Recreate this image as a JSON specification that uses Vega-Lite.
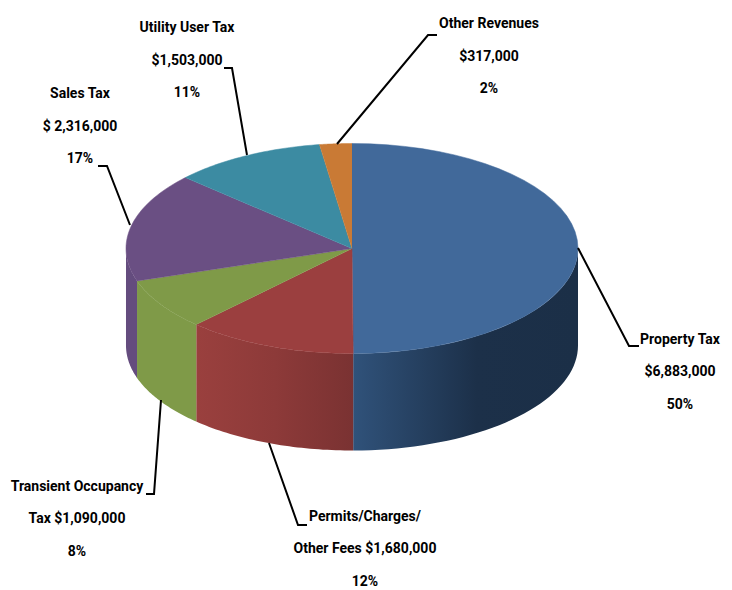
{
  "$schema": "https://vega.github.io/schema/vega-lite/v6.json",
  "width": 732,
  "height": 590,
  "padding": 0,
  "autosize": {"type": "none"},
  "background": "white",
  "view": {"stroke": null},
  "datasets": {
    "slices": [
      {"name": "Property Tax", "ord": 1, "value": 6883000},
      {"name": "Permits/Charges/Other Fees", "ord": 2, "value": 1680000},
      {"name": "Transient Occupancy Tax", "ord": 3, "value": 1090000},
      {"name": "Sales Tax", "ord": 4, "value": 2316000},
      {"name": "Utility User Tax", "ord": 5, "value": 1503000},
      {"name": "Other Revenues", "ord": 6, "value": 317000}
    ],
    "leaders": [
      {"name": "Property Tax", "seq": 1, "x": 1.0, "y": 0.0048},
      {"name": "Property Tax", "seq": 2, "x": 1.2257, "y": -0.9286},
      {"name": "Property Tax", "seq": 3, "x": 1.2699, "y": -0.9286},
      {"name": "Permits", "seq": 1, "x": -0.3673, "y": -1.8524},
      {"name": "Permits", "seq": 2, "x": -0.2389, "y": -2.6333},
      {"name": "Permits", "seq": 3, "x": -0.1991, "y": -2.6333},
      {"name": "Transient", "seq": 1, "x": -0.8451, "y": -1.4429},
      {"name": "Transient", "seq": 2, "x": -0.8761, "y": -2.3381},
      {"name": "Transient", "seq": 3, "x": -0.9115, "y": -2.3381},
      {"name": "Sales Tax", "seq": 1, "x": -0.9823, "y": 0.2238},
      {"name": "Sales Tax", "seq": 2, "x": -1.0841, "y": 0.7857},
      {"name": "Sales Tax", "seq": 3, "x": -1.1239, "y": 0.7857},
      {"name": "Utility", "seq": 1, "x": -0.4646, "y": 0.8905},
      {"name": "Utility", "seq": 2, "x": -0.531, "y": 1.719},
      {"name": "Utility", "seq": 3, "x": -0.5664, "y": 1.719},
      {"name": "Other", "seq": 1, "x": -0.0664, "y": 0.9952},
      {"name": "Other", "seq": 2, "x": 0.3363, "y": 2.0333},
      {"name": "Other", "seq": 3, "x": 0.3761, "y": 2.0333}
    ],
    "labels": [
      {"label": "Property Tax\n$6,883,000\n50%", "x": 1.4513, "y": -0.8714},
      {"label": "Permits/Charges/\nOther Fees  $1,680,000\n12%", "x": 0.0575, "y": -2.5571},
      {"label": "Transient Occupancy\nTax  $1,090,000\n8%", "x": -1.2168, "y": -2.2714},
      {"label": "Sales Tax\n$ 2,316,000\n17%", "x": -1.2035, "y": 1.4714},
      {"label": "Utility User Tax\n$1,503,000\n11%", "x": -0.7301, "y": 2.1},
      {"label": "Other Revenues\n$317,000\n2%", "x": 0.6062, "y": 2.1381}
    ]
  },
  "encoding": {
    "x": {"field": "x", "type": "quantitative", "axis": null, "scale": {"domain": [-1.5575, 1.6814], "nice": false, "zero": false}},
    "y": {"field": "y", "type": "quantitative", "axis": null, "scale": {"domain": [-3.2524, 2.3667], "nice": false, "zero": false}}
  },
  "layer": [
    {
      "data": {"name": "slices"},
      "transform": [
        {"joinaggregate": [{"op": "sum", "field": "value", "as": "total"}]},
        {"stack": "value", "sort": [{"field": "ord"}], "as": ["a0", "a1"]},
        {"calculate": "max(datum.a0 / datum.total, 0.25)", "as": "lo"},
        {"calculate": "min(datum.a1 / datum.total, 0.75)", "as": "hi"},
        {"filter": "datum.lo < datum.hi"},
        {"calculate": "sequence(0, 82)", "as": "k"},
        {"flatten": ["k"]},
        {"calculate": "datum.k <= 40 ? datum.k / 40 : (81 - datum.k) / 40", "as": "f"},
        {"calculate": "2 * PI * (datum.lo + (datum.hi - datum.lo) * datum.f)", "as": "th"},
        {"calculate": "sin(datum.th)", "as": "x"},
        {"calculate": "cos(datum.th) - (datum.k > 40 ? 0.9238 : 0)", "as": "y"}
      ],
      "encoding": {"order": {"field": "k", "type": "quantitative"}},
      "layer": [
        {
          "transform": [{"filter": "datum.ord == 1"}],
          "mark": {"type": "line", "strokeWidth": 0, "fill": {"gradient": "linear", "x1": 0, "y1": 0, "x2": 1, "y2": 0, "stops": [{"offset": 0, "color": "#30527a"}, {"offset": 0.55, "color": "#1c3049"}, {"offset": 1, "color": "#1b2f47"}]}}
        },
        {
          "transform": [{"filter": "datum.ord == 2"}],
          "mark": {"type": "line", "strokeWidth": 0, "fill": {"gradient": "linear", "x1": 0, "y1": 0, "x2": 1, "y2": 0, "stops": [{"offset": 0, "color": "#9a403e"}, {"offset": 0.5, "color": "#8d3a39"}, {"offset": 1, "color": "#7a3232"}]}}
        },
        {
          "transform": [{"filter": "datum.ord == 3"}],
          "mark": {"type": "line", "strokeWidth": 0, "fill": "#7f9a48"}
        },
        {
          "transform": [{"filter": "datum.ord == 4"}],
          "mark": {"type": "line", "strokeWidth": 0, "fill": "#644c7e"}
        }
      ]
    },
    {
      "data": {"name": "slices"},
      "transform": [
        {"joinaggregate": [{"op": "sum", "field": "value", "as": "total"}]},
        {"stack": "value", "sort": [{"field": "ord"}], "as": ["a0", "a1"]},
        {"calculate": "sequence(-1, 41)", "as": "k"},
        {"flatten": ["k"]},
        {"calculate": "2 * PI * (datum.a0 + (datum.a1 - datum.a0) * datum.k / 40) / datum.total", "as": "th"},
        {"calculate": "datum.k < 0 ? 0 : sin(datum.th)", "as": "x"},
        {"calculate": "datum.k < 0 ? 0 : cos(datum.th)", "as": "y"}
      ],
      "mark": {"type": "line", "strokeWidth": 0.5},
      "encoding": {
        "order": {"field": "k", "type": "quantitative"},
        "detail": {"field": "name"},
        "fill": {
          "field": "name",
          "type": "nominal",
          "legend": null,
          "scale": {
            "domain": ["Property Tax", "Permits/Charges/Other Fees", "Transient Occupancy Tax", "Sales Tax", "Utility User Tax", "Other Revenues"],
            "range": ["#41699a", "#9b3f3f", "#7f9a48", "#6a4f83", "#3c8ba2", "#c97a35"]
          }
        },
        "stroke": {
          "field": "name",
          "type": "nominal",
          "legend": null,
          "scale": {
            "domain": ["Property Tax", "Permits/Charges/Other Fees", "Transient Occupancy Tax", "Sales Tax", "Utility User Tax", "Other Revenues"],
            "range": ["#41699a", "#9b3f3f", "#7f9a48", "#6a4f83", "#3c8ba2", "#c97a35"]
          }
        }
      }
    },
    {
      "data": {"name": "leaders"},
      "mark": {"type": "line", "color": "#000000", "strokeWidth": 2, "interpolate": "linear"},
      "encoding": {
        "detail": {"field": "name"},
        "order": {"field": "seq", "type": "quantitative"}
      }
    },
    {
      "data": {"name": "labels"},
      "mark": {"type": "text", "lineBreak": "\n", "lineHeight": 32.5, "align": "center", "baseline": "middle", "font": "Roboto", "fontWeight": "bold", "fontSize": 14, "color": "#000000"},
      "encoding": {"text": {"field": "label", "type": "nominal"}}
    }
  ]
}
